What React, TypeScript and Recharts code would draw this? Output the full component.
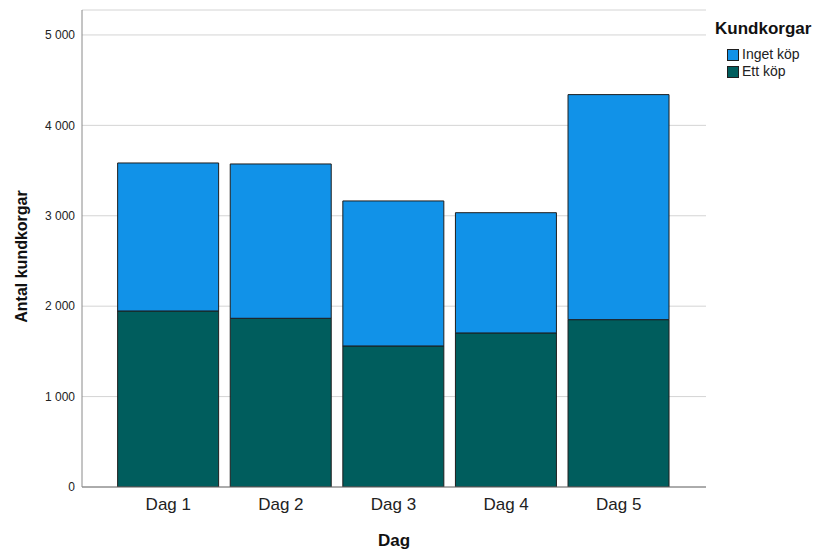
import React from 'react';
import { BarChart, Bar, XAxis, YAxis, CartesianGrid, Label } from 'recharts';

const categories = ['Dag 1', 'Dag 2', 'Dag 3', 'Dag 4', 'Dag 5'];
const ettKop = [1947, 1866, 1560, 1704, 1851];
const ingetKop = [1637, 1707, 1604, 1330, 2489];
const yTicks = [0, 1000, 2000, 3000, 4000, 5000];

const series = [
  { key: 'ettKop', name: 'Ett köp', color: '#005d5d' },
  { key: 'ingetKop', name: 'Inget köp', color: '#1192e8' },
];

const data = categories.map((c, i) => ({ dag: c, ettKop: ettKop[i], ingetKop: ingetKop[i] }));

const FONT = '"Liberation Sans", Arial, sans-serif';

const fmt = (v: number) => {
  const s = String(v);
  return s.length > 3 ? s.slice(0, s.length - 3) + ' ' + s.slice(-3) : s;
};

export default function App() {
  return (
    <div style={{ position: 'absolute', left: 0, top: 0, width: 818, height: 551, background: '#fff', fontFamily: FONT }}>
      <BarChart
        width={818}
        height={551}
        data={data}
        margin={{ top: 10, right: 112, bottom: 0, left: 0 }}
        barCategoryGap="5%"
      >
        <CartesianGrid horizontal vertical={false} stroke="#d4d4d4" strokeWidth={1} />
        <XAxis
          dataKey="dag"
          height={64}
          padding={{ left: 30, right: 31 }}
          tickLine={false}
          tickSize={0}
          tickMargin={11}
          stroke="#6e6e6e"
          tick={{ fill: '#222', fontSize: 17, fontFamily: FONT }}
        >
          <Label
            content={(props: any) => {
              const vb = props.viewBox || {};
              return (
                <text x={vb.x + vb.width / 2} y={546} textAnchor="middle" fontSize={17} fontWeight="bold" fontFamily={FONT} fill="#111">
                  Dag
                </text>
              );
            }}
          />
        </XAxis>
        <YAxis
          width={82}
          domain={[0, 5276]}
          ticks={yTicks}
          interval={0}
          allowDataOverflow
          tickFormatter={fmt}
          tickLine={false}
          tickSize={0}
          tickMargin={7}
          stroke="#8a8a8a"
          tick={{ fill: '#222', fontSize: 12, fontFamily: FONT }}
        >
          <Label
            content={(props: any) => {
              const vb = props.viewBox || {};
              const cy = vb.y + vb.height / 2 + 8;
              return (
                <text x={27} y={cy} transform={`rotate(-90, 27, ${cy})`} textAnchor="middle" fontSize={16} fontWeight="bold" fontFamily={FONT} fill="#111">
                  Antal kundkorgar
                </text>
              );
            }}
          />
        </YAxis>
        {series.map((s) => (
          <Bar
            key={s.key}
            dataKey={s.key}
            name={s.name}
            stackId="a"
            fill={s.color}
            stroke="#1e1e1e"
            strokeWidth={1}
            isAnimationActive={false}
          />
        ))}
      </BarChart>
      <div style={{ position: 'absolute', left: 715, top: 19, fontSize: 17, fontWeight: 'bold', color: '#111', lineHeight: '20px' }}>
        Kundkorgar
      </div>
      <div style={{ position: 'absolute', left: 727, top: 46 }}>
        {[...series].reverse().map((s) => (
          <div key={s.key} style={{ display: 'flex', alignItems: 'center', height: 17 }}>
            <div style={{ width: 12, height: 12, background: s.color, border: '1px solid #1e1e1e', boxSizing: 'border-box' }} />
            <span style={{ marginLeft: 3, fontSize: 14, color: '#222', lineHeight: '17px' }}>{s.name}</span>
          </div>
        ))}
      </div>
    </div>
  );
}
